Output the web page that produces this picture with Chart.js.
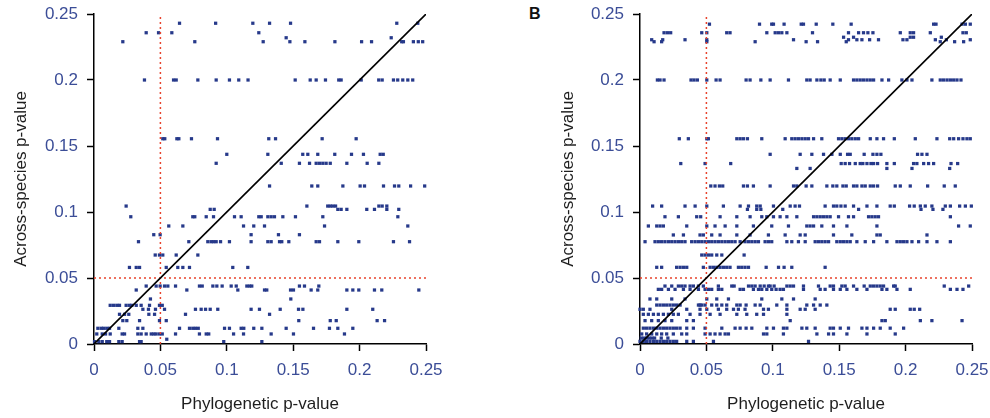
<!DOCTYPE html>
<html>
<head>
<meta charset="utf-8">
<script src="https://cdn.jsdelivr.net/npm/chart.js@4.4.1/dist/chart.umd.min.js"></script>
<style>
  html, body { margin: 0; padding: 0; background: #fff; }
  #wrap { position: relative; width: 990px; height: 418px; overflow: hidden; }
  #panel-a { position: absolute; left: 0; top: 0; }
  #panel-b { position: absolute; left: 545px; top: 0; }
  #label-b { position: absolute; left: 529px; top: 5px; font: bold 16px "Liberation Sans", Arial, sans-serif; color: #111; }
</style>
</head>
<body>
<div id="wrap">
  <canvas id="panel-a" width="450" height="418"></canvas>
  <canvas id="panel-b" width="445" height="418"></canvas>
  <div id="label-b">B</div>
</div>
<script>
// axis ticks
const TICKS       = [0, 0.05, 0.1, 0.15, 0.2, 0.25]
const TICK_LABELS = ['0', '0.05', '0.1', '0.15', '0.2', '0.25']
const CUTOFF      = 0.05

// panel A: p-values come in discrete levels, one row of x values per level
const A_Y = [0.243, 0.2358, 0.232, 0.229, 0.2, 0.1555, 0.1437, 0.1369, 0.1197, 0.1045, 0.102, 0.0964,
  0.0894, 0.0828, 0.0775, 0.0674, 0.058, 0.0439, 0.0409, 0.0341, 0.0293, 0.0263, 0.0225, 0.0177,
  0.0119, 0.0076, 0.0036, 0.0018]
const A_X = [
  [0.0644, 0.0916, 0.1196, 0.1322, 0.148, 0.228, 0.2438],
  [0.0393, 0.0486, 0.0586, 0.1241],
  [0.1447, 0.2238],
  [0.0217, 0.0759, 0.1274, 0.1475, 0.1588, 0.1814, 0.2015, 0.209, 0.2317, 0.233, 0.2405, 0.2442, 0.2475],
  [0.038, 0.0599, 0.0619, 0.0782, 0.092, 0.102, 0.109, 0.116, 0.1515, 0.1628, 0.1673, 0.1743, 0.1843,
    0.1861, 0.2012, 0.2144, 0.217, 0.2255, 0.2287, 0.2325, 0.2363, 0.24],
  [0.0518, 0.0533, 0.0624, 0.0639, 0.0734, 0.093, 0.1316, 0.1367, 0.1718, 0.1974],
  [0.1, 0.1309, 0.1572, 0.161, 0.1685, 0.1813, 0.1939, 0.2029, 0.2155, 0.2178],
  [0.092, 0.141, 0.1547, 0.1623, 0.1673, 0.1698, 0.1723, 0.1748, 0.1779, 0.1904, 0.2057, 0.2145],
  [0.1322, 0.164, 0.1685, 0.1874, 0.2004, 0.2037, 0.218, 0.2263, 0.2295, 0.2384, 0.249],
  [0.0242, 0.1603, 0.176, 0.1779, 0.1798, 0.1819, 0.2145, 0.217, 0.2205],
  [0.0875, 0.0905, 0.1836, 0.1861, 0.1904, 0.2054, 0.2112, 0.2205, 0.2295],
  [0.0277, 0.0744, 0.0759, 0.0845, 0.09, 0.1058, 0.1108, 0.1241, 0.1259, 0.1309, 0.1334, 0.1359,
    0.1422, 0.1517, 0.1723, 0.2288],
  [0.0563, 0.0669, 0.1126, 0.1203, 0.1284, 0.1736, 0.2363],
  [0.045, 0.0498, 0.1183, 0.1389, 0.1547],
  [0.0335, 0.0714, 0.0857, 0.0882, 0.09, 0.092, 0.0953, 0.102, 0.1183, 0.1309, 0.1334, 0.1397, 0.1414,
    0.1467, 0.1673, 0.1698, 0.1836, 0.1994, 0.2255, 0.2376],
  [0.0461, 0.0493, 0.0518, 0.0619, 0.0782],
  [0.0267, 0.0318, 0.0343, 0.0544, 0.0631, 0.0669, 0.0719, 0.1045, 0.1158],
  [0.0393, 0.0468, 0.0498, 0.0531, 0.0556, 0.0614, 0.0794, 0.0815, 0.0895, 0.0925, 0.0965, 0.1033,
    0.1071, 0.1151, 0.1171, 0.1188, 0.1547, 0.1585, 0.1693],
  [0.0318, 0.0699, 0.1083, 0.1284, 0.1301, 0.148, 0.1502, 0.1635, 0.1685, 0.1904, 0.1949, 0.1994,
    0.2112, 0.2167, 0.2446],
  [0.0425, 0.1482],
  [0.0122, 0.0147, 0.0172, 0.0192, 0.0242, 0.0267, 0.0285, 0.0318, 0.0355, 0.0418, 0.0493, 0.0514],
  [0.0368, 0.041, 0.0463, 0.0531, 0.0764, 0.0807, 0.084, 0.0875, 0.0932, 0.1183, 0.1246, 0.1402,
    0.154, 0.1573, 0.1904, 0.2099],
  [0.0192, 0.023, 0.0262, 0.0413, 0.0456, 0.0689, 0.1322],
  [0.0217, 0.0247, 0.0343, 0.0493, 0.0544, 0.1542, 0.1779, 0.1824, 0.2132, 0.2188],
  [0.0029, 0.0054, 0.0072, 0.0096, 0.0117, 0.0187, 0.033, 0.0368, 0.0644, 0.0719, 0.0744, 0.0764,
    0.0785, 0.0983, 0.102, 0.1108, 0.1128, 0.1203, 0.1264, 0.1447, 0.1653, 0.1773, 0.1836, 0.1949],
  [0.0021, 0.0062, 0.0087, 0.0122, 0.0212, 0.023, 0.033, 0.0355, 0.0393, 0.0431, 0.045, 0.0468,
    0.0493, 0.0514, 0.0614, 0.0794, 0.0845, 0.0864, 0.1051, 0.1126, 0.1334, 0.1502, 0.1886],
  [0.0548],
  [0.0004, 0.0036, 0.0062, 0.0096, 0.0117, 0.0187, 0.0212, 0.0343, 0.0355, 0.0977, 0.1264]
]

// panel B
const B_Y = [0.2423, 0.2358, 0.2324, 0.2305, 0.229, 0.2, 0.1555, 0.1437, 0.1367, 0.133, 0.1197, 0.1045,
  0.102, 0.0964, 0.0894, 0.0826, 0.0775, 0.0674, 0.0581, 0.0439, 0.0414, 0.0341, 0.0295, 0.0263,
  0.0225, 0.0177, 0.012, 0.0076, 0.0045, 0.002]
const B_X = [
  [0.0523, 0.09, 0.0992, 0.1005, 0.1085, 0.1214, 0.1231, 0.1327, 0.1452, 0.159, 0.2211, 0.2229,
    0.2425, 0.245, 0.2487],
  [0.0181, 0.0206, 0.0231, 0.0465, 0.0503, 0.0653, 0.0678, 0.0955, 0.1018, 0.1043, 0.1068, 0.1106,
    0.1299, 0.157, 0.1646, 0.1683, 0.1716, 0.1754, 0.196, 0.2035, 0.206, 0.2186, 0.2432, 0.2457],
  [0.1533, 0.1608, 0.2035, 0.206, 0.2269],
  [0.0088, 0.0171, 0.0339, 0.0503, 0.1156, 0.157, 0.1633, 0.1671, 0.1729, 0.1796, 0.198, 0.201,
    0.2224, 0.2307, 0.2487],
  [0.0106, 0.0163, 0.0503, 0.0867, 0.1251, 0.1337, 0.1553, 0.2261, 0.2369, 0.2437],
  [0.0131, 0.0151, 0.0181, 0.0384, 0.0407, 0.0432, 0.0503, 0.0573, 0.0603, 0.0799, 0.0829, 0.091,
    0.098, 0.1118, 0.1256, 0.1281, 0.1332, 0.1362, 0.1387, 0.1432, 0.1508, 0.1608, 0.1633, 0.1658,
    0.1683, 0.1709, 0.1734, 0.1759, 0.1822, 0.1872, 0.1972, 0.201, 0.2048, 0.2198, 0.2261, 0.2286,
    0.2312, 0.2337, 0.2362, 0.2387, 0.2417],
  [0.0296, 0.0364, 0.0503, 0.0515, 0.0729, 0.0754, 0.0779, 0.0809, 0.0917, 0.1093, 0.1143, 0.1168,
    0.1193, 0.1219, 0.1244, 0.1269, 0.1307, 0.1369, 0.1495, 0.152, 0.1545, 0.157, 0.1595, 0.1621,
    0.1646, 0.1734, 0.1784, 0.1834, 0.1915, 0.2073, 0.2236, 0.2332, 0.2362, 0.2399, 0.2432, 0.2462, 0.2487],
  [0.098, 0.1206, 0.1294, 0.1382, 0.1445, 0.1508, 0.1563, 0.1583, 0.1688, 0.1754, 0.1784, 0.1814,
    0.209, 0.2123, 0.2161],
  [0.0307, 0.049, 0.0683, 0.1515, 0.1545, 0.1578, 0.1621, 0.1658, 0.1678, 0.1709, 0.1739, 0.1759,
    0.1789, 0.1859, 0.1915, 0.206, 0.2085, 0.2136, 0.2173, 0.2211, 0.2342, 0.2392],
  [0.1181, 0.1281, 0.1859, 0.2048, 0.2332],
  [0.0533, 0.0565, 0.0598, 0.0623, 0.0779, 0.0809, 0.0854, 0.098, 0.1156, 0.1181, 0.1251, 0.1294,
    0.1407, 0.1452, 0.1482, 0.1528, 0.1553, 0.1608, 0.1633, 0.1671, 0.1696, 0.1734, 0.1759, 0.1789,
    0.1922, 0.196, 0.2035, 0.2166, 0.2291, 0.2374],
  [0.0095, 0.0163, 0.0339, 0.0415, 0.0503, 0.0628, 0.0754, 0.0817, 0.0879, 0.0905, 0.1005, 0.1131,
    0.1168, 0.1201, 0.1394, 0.1457, 0.1482, 0.1513, 0.1545, 0.1608, 0.1709, 0.1784, 0.1884, 0.1915,
    0.203, 0.2065, 0.2111, 0.2148, 0.2198, 0.2299, 0.2337, 0.2407, 0.245, 0.2495],
  [0.0809, 0.0879, 0.091, 0.1075, 0.1646, 0.2116, 0.2206, 0.2281],
  [0.0188, 0.0289, 0.0427, 0.0457, 0.0603, 0.0729, 0.0829, 0.0917, 0.0955, 0.1005, 0.1055, 0.1106,
    0.1181, 0.1307, 0.1332, 0.1357, 0.1382, 0.1407, 0.1432, 0.1495, 0.157, 0.1608, 0.1721, 0.1746,
    0.1771, 0.1796, 0.2337],
  [0.0063, 0.0126, 0.0151, 0.0176, 0.0352, 0.0503, 0.0565, 0.0641, 0.0729, 0.0854, 0.0992, 0.1118,
    0.1256, 0.1281, 0.1307, 0.1369, 0.1457, 0.1558, 0.1784, 0.2399, 0.2487],
  [0.0251, 0.0327, 0.0452, 0.0477, 0.054, 0.0603, 0.0729, 0.0829, 0.0967, 0.1093, 0.1206, 0.1244,
    0.1457, 0.1595, 0.1784, 0.1809, 0.2161],
  [0.0038, 0.0113, 0.0138, 0.0163, 0.0188, 0.0214, 0.0239, 0.0264, 0.0289, 0.0314, 0.0339, 0.0389,
    0.0415, 0.044, 0.0465, 0.049, 0.0515, 0.054, 0.0565, 0.059, 0.0616, 0.0641, 0.0666, 0.0691,
    0.0716, 0.0754, 0.0791, 0.0817, 0.0842, 0.0867, 0.0892, 0.0942, 0.0967, 0.0992, 0.1106, 0.1143,
    0.1193, 0.1244, 0.1319, 0.1344, 0.1369, 0.1394, 0.142, 0.1482, 0.1508, 0.1533, 0.1558, 0.1583,
    0.1633, 0.1696, 0.1759, 0.1859, 0.1935, 0.196, 0.1985, 0.201, 0.2048, 0.2098, 0.2161, 0.2236, 0.2337],
  [0.0465, 0.049, 0.0515, 0.054, 0.0578, 0.0616, 0.0784],
  [0.0126, 0.0163, 0.0276, 0.0302, 0.0327, 0.0352, 0.0477, 0.0528, 0.0553, 0.0578, 0.0603, 0.0628,
    0.0653, 0.0678, 0.0741, 0.0766, 0.0791, 0.0817, 0.095, 0.1043, 0.1085, 0.1143, 0.1394],
  [0.0188, 0.0239, 0.0289, 0.0314, 0.0339, 0.0377, 0.0402, 0.044, 0.0477, 0.059, 0.0691, 0.0709,
    0.0817, 0.0842, 0.0867, 0.0905, 0.0935, 0.0967, 0.098, 0.101, 0.1106, 0.1131, 0.1156, 0.1231,
    0.1344, 0.1432, 0.1457, 0.152, 0.1545, 0.1608, 0.1688, 0.1734, 0.1759, 0.1784, 0.1809, 0.1834,
    0.191, 0.1922, 0.2291, 0.2475],
  [0.0138, 0.0163, 0.0214, 0.0264, 0.0327, 0.0377, 0.044, 0.049, 0.0515, 0.054, 0.059, 0.0616,
    0.0754, 0.0779, 0.0854, 0.0892, 0.0917, 0.0955, 0.0992, 0.1025, 0.1055, 0.108, 0.1231, 0.1357,
    0.1394, 0.1457, 0.1508, 0.1558, 0.1633, 0.1709, 0.1822, 0.1859, 0.1935, 0.2035, 0.2337, 0.2387, 0.2432],
  [0.0075, 0.0126, 0.0239, 0.0339, 0.0503, 0.0578, 0.0666, 0.0917, 0.1068, 0.1156, 0.1319],
  [0.0126, 0.0151, 0.0176, 0.0201, 0.0226, 0.0251, 0.0276, 0.0302, 0.044, 0.0452, 0.0465, 0.049,
    0.054, 0.0578, 0.0616, 0.0653, 0.0729, 0.0754, 0.0799, 0.0867, 0.0905, 0.103, 0.1106, 0.1256,
    0.1307, 0.1357, 0.1407],
  [0.0, 0.0025, 0.0075, 0.0239, 0.0352, 0.0452, 0.0503, 0.059, 0.0653, 0.0704, 0.0741, 0.0791,
    0.093, 0.0967, 0.1106, 0.1206, 0.1244, 0.1319, 0.1884, 0.1922, 0.2035, 0.2065, 0.2106],
  [0.0025, 0.0063, 0.0101, 0.0138, 0.0176, 0.0214, 0.0251, 0.0289, 0.0377, 0.0452, 0.0528, 0.0603,
    0.0729, 0.0804, 0.0879, 0.093, 0.1106],
  [0.0038, 0.0088, 0.0138, 0.0188, 0.0239, 0.0352, 0.0402, 0.1131, 0.1822, 0.1847, 0.2111, 0.2198, 0.2425],
  [0.0025, 0.005, 0.0075, 0.0101, 0.0126, 0.0151, 0.0176, 0.0201, 0.0226, 0.0251, 0.0276, 0.0302,
    0.0352, 0.0402, 0.049, 0.0616, 0.0716, 0.0754, 0.0799, 0.0842, 0.0955, 0.1005, 0.108, 0.1106,
    0.1219, 0.1256, 0.1319, 0.1432, 0.1457, 0.1508, 0.157, 0.1671, 0.1709, 0.1759, 0.1809, 0.1884, 0.1985],
  [0.0013, 0.005, 0.0088, 0.0126, 0.0163, 0.0201, 0.0251, 0.0314, 0.0352, 0.049, 0.0528, 0.0565,
    0.0603, 0.0641, 0.0666, 0.093, 0.0955, 0.108, 0.1332, 0.142, 0.1457, 0.1558, 0.1709, 0.1922],
  [0.001, 0.003, 0.005, 0.007, 0.009, 0.011, 0.016, 0.021],
  [0.0, 0.0025, 0.005, 0.0075, 0.0101, 0.0126, 0.0151, 0.0176, 0.0201, 0.0226, 0.0251, 0.0276,
    0.0352, 0.0402, 0.0553, 0.1269]
]

const FONT       = '"Liberation Sans", Arial, sans-serif'
const TICK_COLOR = '#3b4d97'
const DOT_COLOR  = '#26398a'
const RED        = '#e8432d'

function toPoints(ys, xs) {
  return ys.flatMap((y, i) => xs[i].map(x => ({ x, y })))
}

function makePanel(canvasId, ys, xs, axisWidth, padRight, titlePad) {
  const axisBase = {
    type: 'linear',
    min: 0, max: 0.25,
    afterBuildTicks: axis => { axis.ticks = TICKS.map(v => ({ value: v })) },
    border: { display: true, color: '#000', width: 1.5 },
    grid: { display: true, drawOnChartArea: false, drawTicks: true, tickLength: 7, tickColor: '#000', tickWidth: 1.5 },
    ticks: {
      color: TICK_COLOR,
      font: { family: FONT, size: 17 },
      padding: 9,
      maxRotation: 0,
      autoSkip: false,
      callback: v => TICK_LABELS[TICKS.indexOf(v)]
    }
  }

  return new Chart(document.getElementById(canvasId), {
    type: 'scatter',
    data: {
      datasets: [
        {
          data: [{ x: 0, y: 0 }, { x: 0.25, y: 0.25 }],
          showLine: true, borderColor: '#000', borderWidth: 1.6,
          pointRadius: 0, order: 0
        },
        {
          data: [{ x: CUTOFF, y: 0 }, { x: CUTOFF, y: 0.25 }],
          showLine: true, borderColor: RED, borderWidth: 1.5, borderDash: [2, 3],
          pointRadius: 0, order: 0
        },
        {
          data: [{ x: 0, y: CUTOFF }, { x: 0.25, y: CUTOFF }],
          showLine: true, borderColor: RED, borderWidth: 1.5, borderDash: [2, 3],
          pointRadius: 0, order: 0
        },
        {
          data: toPoints(ys, xs),
          pointStyle: 'rect', pointRadius: 2.3, borderWidth: 0,
          backgroundColor: DOT_COLOR, clip: false, order: 1
        }
      ]
    },
    options: {
      responsive: false,
      animation: false,
      events: [],
      layout: { padding: { top: 14, right: padRight, bottom: 0, left: 0 } },
      plugins: { legend: { display: false }, tooltip: { enabled: false } },
      scales: {
        x: {
          ...axisBase,
          position: 'bottom',
          // fixed box, and no extra room asked for the end labels
          afterFit: s => { s.height = 74; s.paddingLeft = 0; s.paddingRight = 0 },
          title: { display: true, text: 'Phylogenetic p-value', color: '#1e1e1e',
            font: { family: FONT, size: 17 }, padding: { top: 0, bottom: 3 } }
        },
        y: {
          ...axisBase,
          position: 'left',
          afterFit: s => { s.width = axisWidth; s.paddingTop = 0; s.paddingBottom = 0 },
          title: { display: true, text: 'Across-species p-value', color: '#1e1e1e',
            font: { family: FONT, size: 17 }, padding: { top: titlePad, bottom: 0 } }
        }
      }
    }
  })
}

makePanel('panel-a', A_Y, A_X, 94, 24, 11)
makePanel('panel-b', B_Y, B_X, 95, 18, 13)
</script>
</body>
</html>
